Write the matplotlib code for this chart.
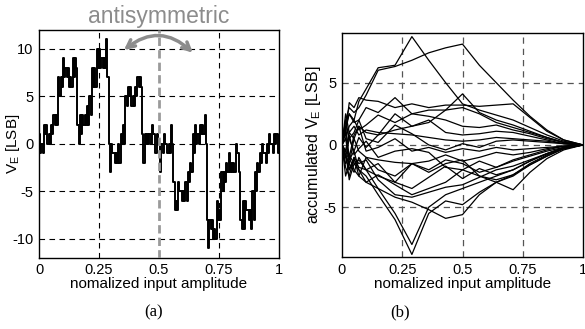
import numpy as np
import matplotlib.pyplot as plt
from matplotlib.patches import FancyArrowPatch

# (a) error of each code, two samples per 0.01 bin (the thick parts toggle between levels)
ve = [1, -1, 0, -1, 2, 1, 2, 0, 1, 0, 2, 1, 3, 2, 3, 2, 7, 5, 7, 6,
      9, 7, 8, 7, 8, 6, 7, 6, 9, 7, 9, 8, 2, 0, 3, 1, 3, 2, 3, 2,
      4, 2, 5, 3, 8, 6, 8, 6, 10, 8, 10, 8, 9, 8, 9, 8, 11, 7, 0, -3,
      0, -1, -1, -2, -1, -2, 0, -2, 1, 0, 2, 0, 5, 4, 6, 5, 6, 4, 5, 4,
      6, 5, 7, 6, 7, 6, 1, -2, 1, 0, 1, 0, 1, 0, 2, 1, 1, -1, 1, 0,
      0, -3, 0, -1, 1, 0, 0, -1, 0, -1, 2, 0, -4, -7, -6, -7, -4, -5, -5, -6,
      -5, -6, -4, -6, -3, -4, -2, -3, 1, -1, 2, 0, 1, 0, 2, 1, 2, 1, 3, 0,
      -8, -11, -8, -9, -8, -10, -9, -10, -6, -8, -7, -8, -3, -5, -3, -4, -2, -3, -1, -3,
      -2, -3, -2, -3, 0, -1, -1, -3, -8, -9, -6, -9, -6, -7, -7, -8, -7, -9, -5, -8,
      -3, -5, -2, -3, -1, -2, 0, -1, -1, -2, 0, -1, 1, 0, 0, -1, 1, 0, 1, -1]

# (b) accumulated error curves, sampled at these amplitudes
xb = [0, 0.015, 0.03, 0.05, 0.07, 0.10, 0.15, 0.22, 0.29, 0.36,
      0.43, 0.50, 0.57, 0.64, 0.71, 0.78, 0.85, 0.92, 1.0]
acc = [
    [0, 1.5, 2.5, 2.0, 3.5, 4.5, 6.2, 6.4, 8.7, 6.8, 5.0, 3.3, 2.8, 2.4, 2.0, 1.4, 0.8, 0.3, 0],
    [0, 2.0, 3.0, 2.6, 3.0, 4.0, 6.0, 6.3, 6.8, 7.4, 7.8, 8.1, 6.4, 5.0, 3.6, 2.3, 1.2, 0.4, 0],
    [0, 1.0, 3.4, 3.0, 3.8, 3.6, 3.5, 3.0, 3.3, 3.0, 3.2, 3.2, 3.1, 3.2, 3.3, 2.2, 1.1, 0.4, 0],
    [0, -0.5, 1.0, 0.5, 1.5, 1.0, 0.8, 1.2, 1.5, 1.8, 2.8, 4.1, 2.6, 2.0, 1.6, 1.1, 0.6, 0.2, 0],
    [0, 1.2, 2.5, 1.8, 2.0, 3.0, 2.6, 3.8, 2.5, 2.8, 2.8, 3.0, 2.5, 1.8, 1.4, 1.0, 0.6, 0.2, 0],
    [0, 0.5, 1.5, 2.0, 1.2, 1.6, 2.4, 1.8, 2.5, 2.3, 2.0, 1.5, 1.4, 1.6, 1.2, 0.9, 0.5, 0.2, 0],
    [0, 2.5, 1.0, 1.5, 0.8, 1.2, 1.0, 0.9, 0.8, 0.6, 0.4, 0.3, 0.4, 0.6, 0.5, 0.4, 0.3, 0.1, 0],
    [0, -1.0, 0.5, 1.0, 2.0, 0.5, 0.2, 1.6, 0.9, 0.0, -0.4, 0.1, -0.2, 0.3, 0.4, 0.3, 0.2, 0.1, 0],
    [0, 1.5, -1.0, 0.8, 1.5, -0.5, -0.2, 0.5, -0.5, -0.2, -0.6, -0.3, -0.5, -0.2, -0.4, -0.3, -0.2, -0.1, 0],
    [0, -0.8, -1.5, 0.5, -0.5, -1.0, -1.2, -1.4, -1.5, -1.3, -0.8, -1.3, -1.0, -0.6, -0.8, -0.6, -0.3, -0.1, 0],
    [0, 1.0, -2.0, -1.0, -2.5, -1.0, -2.0, -2.5, -1.5, -2.0, -1.2, -1.5, -2.2, -1.8, -1.3, -0.9, -0.5, -0.2, 0],
    [0, -2.5, -1.5, -2.2, -1.0, -2.0, -1.5, -3.0, -3.5, -2.6, -1.7, -2.7, -1.9, -2.4, -2.0, -1.3, -0.7, -0.3, 0],
    [0, -1.0, -2.0, -1.2, -1.8, -2.0, -2.5, -3.0, -1.5, -2.2, -1.5, -1.2, -2.5, -3.0, -3.6, -2.2, -1.1, -0.4, 0],
    [0, -0.5, -2.8, -1.5, -2.0, -3.0, -2.4, -3.2, -4.0, -3.5, -3.0, -2.0, -2.5, -2.8, -2.4, -1.6, -0.9, -0.3, 0],
    [0, -1.5, -1.0, -2.0, -2.5, -3.0, -3.5, -4.2, -4.6, -5.2, -5.9, -5.6, -4.0, -3.0, -2.4, -1.5, -0.8, -0.3, 0],
    [0, -1.0, -0.8, -1.5, -1.2, -2.0, -3.5, -5.5, -8.0, -5.0, -4.0, -3.5, -3.0, -2.5, -2.0, -1.3, -0.7, -0.2, 0],
    [0, 0.5, -1.2, -0.5, -2.0, -2.5, -4.0, -6.0, -8.8, -5.5, -4.5, -4.8, -3.8, -3.0, -2.5, -1.6, -0.9, -0.3, 0],
    [0, -1.8, -2.5, -1.0, -1.5, -1.2, -2.8, -4.0, -4.2, -3.8, -3.4, -3.2, -2.6, -2.0, -1.7, -1.2, -0.7, -0.2, 0],
    [0, 2.0, 0.5, -0.5, 0.6, -0.2, 0.8, 2.5, 1.5, 2.0, 1.0, 0.8, 0.9, 1.1, 1.0, 0.7, 0.4, 0.1, 0],
    [0, -0.5, 0.8, -0.8, -0.3, 0.3, -1.0, -0.5, -0.3, -0.6, -1.8, -2.0, -1.3, -1.8, -1.2, -0.8, -0.4, -0.1, 0],
]

xticks = [0, 0.25, 0.5, 0.75, 1]
xticklabels = ['0', '0.25', '0.5', '0.75', '1']

plt.rcParams['font.family'] = ['Liberation Sans', 'DejaVu Sans']
plt.rcParams['font.size'] = 10
plt.rcParams['axes.unicode_minus'] = False

fig = plt.figure(figsize=(5.85, 3.29), dpi=100)
ax1 = fig.add_axes([0.0667, 0.216, 0.410, 0.693])
ax2 = fig.add_axes([0.5846, 0.219, 0.412, 0.681])

dash = (0, (5, 4))


def style(ax, yticks):
    ax.set_xlim(0, 1)
    ax.set_xticks(xticks)
    ax.set_xticklabels(xticklabels)
    ax.set_yticks(yticks)
    ax.tick_params(length=0, pad=4, labelsize=10.5)
    for s in ax.spines.values():
        s.set_linewidth(1.0)
    ax.set_xlabel('nomalized input amplitude', labelpad=0, fontsize=11)


# (a)
x1 = np.linspace(0, 1, len(ve) + 1)
ax1.plot(x1, ve + [ve[-1]], drawstyle='steps-post', color='black', lw=1.4)
ax1.set_ylim(-12, 12)
style(ax1, [-10, -5, 0, 5, 10])
for v in [-10, -5, 0, 5, 10]:
    ax1.axhline(v, color='black', lw=0.8, ls=dash, zorder=0)
for v in [0.25, 0.75]:
    ax1.axvline(v, color='black', lw=0.8, ls=dash, zorder=0)
ax1.axvline(0.5, color='#9a9a9a', lw=2.0, ls=(0, (3, 1.5)), zorder=3)
ax1.set_ylabel('V$_\\mathregular{E}$ [LSB]', fontsize=11)
ax1.yaxis.set_label_coords(-0.072, 0.5)
ax1.text(0.5, 1.06, 'antisymmetric', transform=ax1.transAxes, ha='center', va='center',
         color='#8c8c8c', fontsize=16.5)
arr = FancyArrowPatch((0.345, 9.7), (0.65, 9.4), connectionstyle='arc3,rad=-0.45',
                      arrowstyle='<->', mutation_scale=14, color='#8c8c8c', lw=2.5, zorder=4)
ax1.add_patch(arr)

# (b)
for c in acc:
    ax2.plot(xb, c, color='black', lw=0.9)
ax2.set_ylim(-9, 9)
style(ax2, [-5, 0, 5])
for v in [-5, 0, 5]:
    ax2.axhline(v, color='#555555', lw=0.9, ls=dash, zorder=0)
for v in [0.25, 0.5, 0.75]:
    ax2.axvline(v, color='#555555', lw=0.9, ls=dash, zorder=0)
ax2.set_ylabel('accumulated V$_\\mathregular{E}$ [LSB]', fontsize=11.5)
ax2.yaxis.set_label_coords(-0.078, 0.5)

fig.text(0.262, 0.05, '(a)', ha='center', va='center', fontsize=12, family='Liberation Serif')
fig.text(0.684, 0.05, '(b)', ha='center', va='center', fontsize=12, family='Liberation Serif')

fig.savefig('out.png', dpi=100)
